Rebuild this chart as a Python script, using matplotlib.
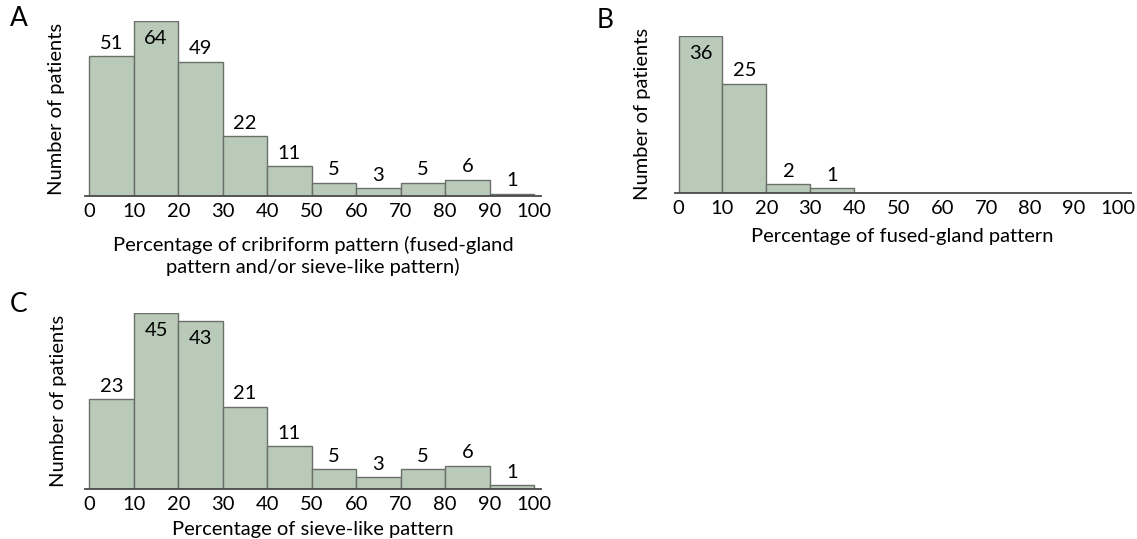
import matplotlib
matplotlib.use("Agg")
import matplotlib.pyplot as plt

plt.rcParams['font.family'] = ['Lato', 'DejaVu Sans']

# bin edges (percent) and counts per panel
bin_starts = [0, 10, 20, 30, 40, 50, 60, 70, 80, 90]
tick_values = [0, 10, 20, 30, 40, 50, 60, 70, 80, 90, 100]

counts_a = [51, 64, 49, 22, 11, 5, 3, 5, 6, 1]
counts_b = [36, 25, 2, 1]
counts_c = [23, 45, 43, 21, 11, 5, 3, 5, 6, 1]

xlabel_a = "Percentage of cribriform pattern (fused-gland\npattern and/or sieve-like pattern)"
xlabel_b = "Percentage of fused-gland pattern"
xlabel_c = "Percentage of sieve-like pattern"
ylabel = "Number of patients"

FILL = '#b9cab9'
EDGE = '#6a6f6a'
AXIS = '#4a4a4a'
FS = 14.5


def draw_panel(ax, counts, xlabel, ylabel_x, xlabel_pad, xlim):
    starts = bin_starts[:len(counts)]
    ax.bar(starts, counts, width=10, align='edge', color=FILL,
           edgecolor=EDGE, linewidth=1.0)
    top = max(counts)
    ax.set_ylim(0, top)
    ax.set_xlim(*xlim)
    for x, v in zip(starts, counts):
        # tallest bars get their label inside, like the original
        if v / top > 0.9:
            ax.annotate(str(v), (x + 5, v), xytext=(0, -16.5), textcoords='offset points',
                        ha='center', va='baseline', fontsize=FS)
        else:
            ax.annotate(str(v), (x + 5, v), xytext=(0, 5.3), textcoords='offset points',
                        ha='center', va='baseline', fontsize=FS)
    for s in ['top', 'right', 'left']:
        ax.spines[s].set_visible(False)
    ax.spines['bottom'].set_color(AXIS)
    ax.spines['bottom'].set_linewidth(1.3)
    ax.set_yticks([])
    ax.set_xticks(tick_values)
    ax.tick_params(axis='x', length=0, pad=5, labelsize=FS)
    ax.set_xlabel(xlabel, fontsize=FS, labelpad=xlabel_pad, linespacing=1.3)
    ax.set_ylabel(ylabel, fontsize=FS)
    ax.yaxis.set_label_coords(ylabel_x, 0.5)


fig = plt.figure(figsize=(11.37, 5.39), dpi=100)
ax_a = fig.add_axes([0.0748, 0.6358, 0.4011, 0.3258])
ax_b = fig.add_axes([0.5933, 0.6425, 0.4011, 0.2913])
ax_c = fig.add_axes([0.0748, 0.0928, 0.4011, 0.3265])

draw_panel(ax_a, counts_a, xlabel_a, -0.045, 11, (-0.97, 101.6))
draw_panel(ax_b, counts_b, xlabel_b, -0.052, 8, (-0.9, 102.9))
draw_panel(ax_c, counts_c, xlabel_c, -0.040, 6, (-0.97, 101.6))

fig.text(19 / 1137, 1 - 18.5 / 539, "A", fontsize=19, ha='center', va='center')
fig.text(605.5 / 1137, 1 - 21 / 539, "B", fontsize=19, ha='center', va='center')
fig.text(19 / 1137, 1 - 305 / 539, "C", fontsize=19, ha='center', va='center')

fig.savefig("out.png", dpi=100)
